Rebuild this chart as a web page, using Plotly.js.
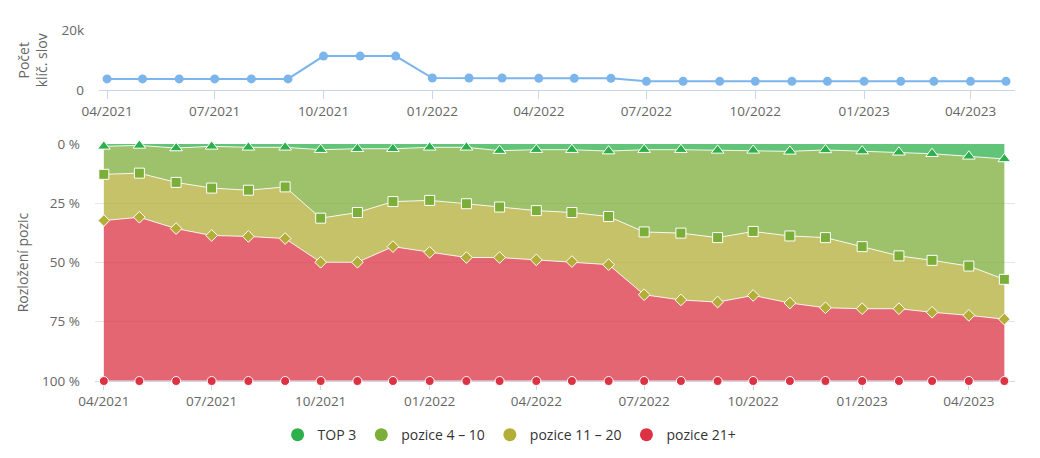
<!DOCTYPE html>
<html>
<head>
<meta charset="utf-8">
<script src="https://cdn.plot.ly/plotly-3.0.1.min.js"></script>
<style>
  html, body { margin: 0; padding: 0; background: #fff; }
  #myDiv { width: 1040px; height: 458px; }
</style>
</head>
<body>
<div id="myDiv"></div>
<script>
// monthly snapshots
months = ["2021-04-01","2021-05-01","2021-06-01","2021-07-01","2021-08-01","2021-09-01",
          "2021-10-01","2021-11-01","2021-12-01","2022-01-01","2022-02-01","2022-03-01",
          "2022-04-01","2022-05-01","2022-06-01","2022-07-01","2022-08-01","2022-09-01",
          "2022-10-01","2022-11-01","2022-12-01","2023-01-01","2023-02-01","2023-03-01",
          "2023-04-01","2023-05-01"];

// number of keywords
keywordCount = [3800,3800,3800,3800,3800,3800,11400,11400,11400,4100,4100,4100,
                4000,4000,4000,3000,3000,3000,3000,3000,3000,3000,3000,3000,3000,3000];

// share of positions, %
top3 = [1.0,0.6,1.7,1.0,1.4,1.4,2.4,2.0,2.0,1.4,1.4,2.8,2.4,2.4,3.0,2.4,2.4,2.7,2.7,3.1,2.5,3.0,3.5,4.1,5.2,6.3];
pos4to10 = [11.8,11.7,14.5,17.6,18.1,16.7,28.9,26.9,22.3,22.4,23.8,23.8,25.7,26.5,27.6,34.7,35.2,36.8,34.2,35.7,37.0,40.3,43.7,45.0,46.3,50.8];
pos11to20 = [19.5,18.6,19.5,20.0,19.5,21.8,18.6,21.0,19.0,21.9,22.7,21.3,20.8,20.7,20.3,26.5,28.2,27.2,27.0,28.3,29.6,26.2,22.3,21.9,20.8,16.8];
pos21plus = [67.7,69.1,64.3,61.4,61.0,60.1,50.1,50.1,56.7,54.3,52.1,52.1,51.1,50.4,49.1,36.4,34.2,33.3,36.1,32.9,30.9,30.5,30.5,29.0,27.7,26.1];

seriesNames = ["TOP 3", "pozice 4 \u2013 10", "pozice 11 \u2013 20", "pozice 21+"];
quarterTicks = ["2021-04-01","2021-07-01","2021-10-01","2022-01-01","2022-04-01",
                "2022-07-01","2022-10-01","2023-01-01","2023-04-01"];

colors = ["#2db04b", "#7cae3a", "#b2ae38", "#dc3344"];
fills = ["rgba(45,176,75,0.75)", "rgba(124,174,58,0.75)", "rgba(178,174,56,0.75)", "rgba(220,51,68,0.75)"];
symbols = ["triangle-up", "square", "diamond", "circle"];
sizes = [11, 10, 9, 9];
values = [top3, pos4to10, pos11to20, pos21plus];

var data = [];

data.push({
    x: months,
    y: keywordCount,
    xaxis: "x2",
    yaxis: "y2",
    type: "scatter",
    mode: "lines+markers",
    line: { color: "#7cb5ec", width: 2 },
    marker: { color: "#7cb5ec", size: 9 },
    cliponaxis: false,
    showlegend: false,
    hoverinfo: "skip"
});

for (var i = 0; i < 4; i++) {
    data.push({
        x: months,
        y: values[i],
        type: "scatter",
        mode: "lines+markers",
        stackgroup: "pos",
        groupnorm: i === 0 ? "percent" : undefined,
        fillcolor: fills[i],
        line: { color: "rgba(255,255,255,0.85)", width: 1 },
        marker: {
            color: colors[i],
            symbol: symbols[i],
            size: sizes[i],
            line: { color: "#ffffff", width: 1 }
        },
        cliponaxis: false,
        showlegend: false,
        hoverinfo: "skip"
    });
}

// legend dots
for (var j = 0; j < 4; j++) {
    data.push({
        x: [null],
        y: [null],
        type: "scatter",
        mode: "markers",
        name: seriesNames[j],
        marker: { color: colors[j], size: 13, symbol: "circle" },
        showlegend: true
    });
}

var tickFont = { family: "Open Sans", size: 13.5, color: "#666666" };
var titleFont = { family: "Open Sans", size: 14, color: "#666666" };

Plotly.newPlot("myDiv", data, {
    width: 1040,
    height: 458,
    paper_bgcolor: "#ffffff",
    plot_bgcolor: "#ffffff",
    margin: { l: 0, r: 0, t: 0, b: 0 },
    hovermode: false,
    font: { family: "Open Sans", color: "#666666" },
    showlegend: true,
    legend: {
        orientation: "h",
        traceorder: "normal",
        x: 0.49,
        xanchor: "center",
        y: 0.05,
        yanchor: "middle",
        font: { family: "Open Sans", size: 14, color: "#333333" },
        itemwidth: 30
    },
    xaxis: {
        domain: [0.0913, 0.976],
        anchor: "y",
        type: "date",
        range: ["2021-03-24 12:00", "2023-05-10"],
        tickvals: quarterTicks,
        tickformat: "%m/%Y",
        ticks: "outside",
        ticklen: 8,
        tickcolor: "#ccd6eb",
        showline: true,
        linecolor: "#ccd6eb",
        showgrid: false,
        zeroline: false,
        layer: "below traces",
        tickfont: tickFont
    },
    yaxis: {
        domain: [0.1681, 0.6856],
        anchor: "x",
        range: [100, 0],
        tickvals: [0, 25, 50, 75, 100],
        ticktext: ["0 %", "25 %", "50 %", "75 %", "100 %"],
        gridcolor: "#e6e6e6",
        zeroline: false,
        ticklabelstandoff: 14,
        tickfont: tickFont,
        title: { text: "Rozložení pozic", font: titleFont, standoff: 10 }
    },
    xaxis2: {
        domain: [0.0952, 0.976],
        anchor: "y2",
        type: "date",
        range: ["2021-03-25 05:00", "2023-05-08 15:00"],
        tickvals: quarterTicks,
        tickformat: "%m/%Y",
        ticks: "outside",
        ticklen: 8,
        tickcolor: "#ccd6eb",
        showline: true,
        linecolor: "#ccd6eb",
        showgrid: false,
        zeroline: false,
        layer: "below traces",
        tickfont: tickFont
    },
    yaxis2: {
        domain: [0.8028, 0.9338],
        anchor: "x2",
        range: [0, 20000],
        tickvals: [0, 20000],
        ticktext: ["0", "20k"],
        gridcolor: "#e6e6e6",
        zeroline: false,
        ticklabelstandoff: 14,
        tickfont: tickFont,
        title: { text: "Počet<br>klíč. slov", font: titleFont, standoff: 10 }
    }
}, { displayModeBar: false, staticPlot: true });
</script>
</body>
</html>
